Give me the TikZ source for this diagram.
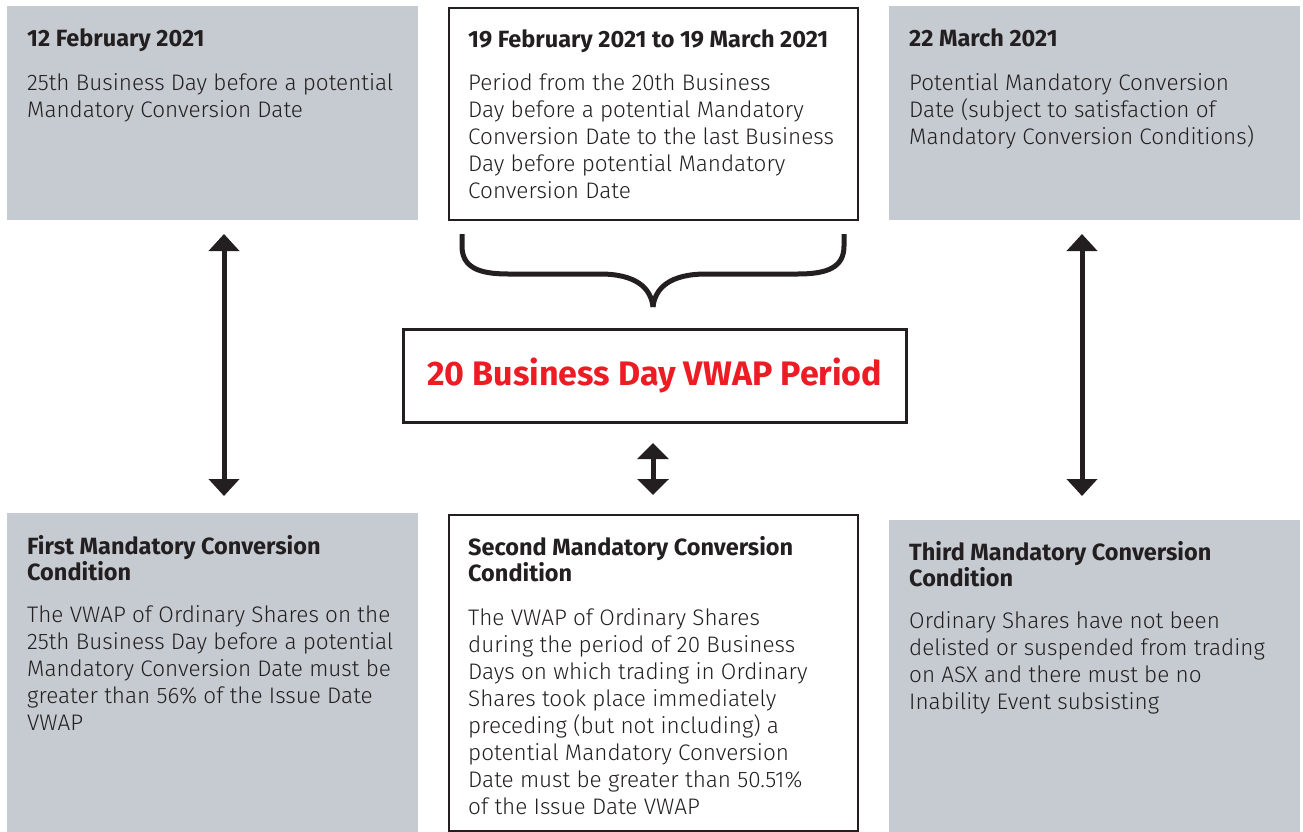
\documentclass[tikz,border=0pt]{standalone}
\usepackage{fontspec}
\setmainfont{Fira Sans Light}[BoldFont={Fira Sans Bold}]
\usetikzlibrary{arrows.meta,positioning}

\definecolor{boxgray}{HTML}{C5CBD1}
\definecolor{inkdark}{HTML}{231F20}
\definecolor{vwapred}{HTML}{ED1C24}

\tikzset{
  graybox/.style={fill=boxgray, draw=none, anchor=north west, inner sep=0, minimum width=411},
  framebox/.style={draw=inkdark, line width=2pt, fill=white, anchor=north west, inner sep=0, minimum width=409},
  headtext/.style={anchor=north west, inner sep=0, align=left, text=inkdark, font=\bfseries\fontsize{23.5}{26}\selectfont},
  bodytext/.style={anchor=north west, inner sep=0, align=left, text=inkdark, font=\fontsize{22.5}{27}\selectfont},
  dblarrow/.style={draw=inkdark, line width=5pt, {Triangle[width=30pt,length=17pt]}-{Triangle[width=30pt,length=17pt]}}
}

\begin{document}
\begin{tikzpicture}[x=1pt, y=-1pt]
\useasboundingbox (0,0) rectangle (1303,832);

% top row
\node[graybox, minimum height=214] (tl) at (7,6) {};
\node[framebox, minimum height=212] (tm) at (448,7) {};
\node[graybox, minimum height=214] (tr) at (889,6) {};

\node[headtext] (tl-head) at ([shift={(20,22)}]tl.north west) {12 February 2021};
\node[bodytext] (tl-body) at ([shift={(20,67)}]tl.north west)
  {25th Business Day before a potential\\Mandatory Conversion Date};

\node[headtext] (tm-head) at ([shift={(20,22)}]tm.north west) {19 February 2021 to 19 March 2021};
\node[bodytext] (tm-body) at ([shift={(20,66)}]tm.north west)
  {Period from the 20th Business\\Day before a potential Mandatory\\Conversion Date to the last Business\\Day before potential Mandatory\\Conversion Date};

\node[headtext] (tr-head) at ([shift={(20,22)}]tr.north west) {22 March 2021};
\node[bodytext] (tr-body) at ([shift={(20,67)}]tr.north west)
  {Potential Mandatory Conversion\\Date (subject to satisfaction of\\Mandatory Conversion Conditions)};

% brace under the period box
\draw[inkdark, line width=5pt]
  (462,234) -- (462,246) .. controls (462,267) and (478,274) .. (508,274)
  -- (600,274) .. controls (636,274) and (651,288) .. (653,307);
\draw[inkdark, line width=5pt]
  (844,234) -- (844,246) .. controls (844,267) and (828,274) .. (798,274)
  -- (706,274) .. controls (670,274) and (655,288) .. (653,307);

% centre box
\node[draw=inkdark, line width=2.5pt, anchor=north west, inner sep=0, minimum width=503, minimum height=93] (vwap) at (402,328) {};
\node[text=vwapred, font=\bfseries\fontsize{34}{36}\selectfont, inner sep=0] (vwap-text) at (vwap.center) {20 Business Day VWAP Period};

% bottom row
\node[graybox, minimum height=319] (bl) at (7,513) {};
\node[framebox, minimum height=316] (bm) at (448,514) {};
\node[graybox, minimum height=312] (br) at (889,520) {};

\node[headtext] (bl-head) at ([shift={(20,22)}]bl.north west) {First Mandatory Conversion\\Condition};
\node[bodytext] (bl-body) at ([shift={(20,92)}]bl.north west)
  {The VWAP of Ordinary Shares on the\\25th Business Day before a potential\\Mandatory Conversion Date must be\\greater than 56\% of the Issue Date\\VWAP};

\node[headtext] (bm-head) at ([shift={(20,22)}]bm.north west) {Second Mandatory Conversion\\Condition};
\node[bodytext] (bm-body) at ([shift={(20,94)}]bm.north west)
  {The VWAP of Ordinary Shares\\during the period of 20 Business\\Days on which trading in Ordinary\\Shares took place immediately\\preceding (but not including) a\\potential Mandatory Conversion\\Date must be greater than 50.51\%\\of the Issue Date VWAP};

\node[headtext] (br-head) at ([shift={(20,21)}]br.north west) {Third Mandatory Conversion\\Condition};
\node[bodytext] (br-body) at ([shift={(20,91)}]br.north west)
  {Ordinary Shares have not been\\delisted or suspended from trading\\on ASX and there must be no\\Inability Event subsisting};

% arrows
\coordinate (la-top) at (224,234);
\coordinate (la-bot) at (224,496);
\coordinate (ra-top) at (1082,234);
\coordinate (ra-bot) at (1082,496);
\coordinate (ma-top) at (653,443);
\coordinate (ma-bot) at (653,495);
\draw[dblarrow] (la-top) -- (la-bot);
\draw[dblarrow] (ra-top) -- (ra-bot);
\draw[dblarrow, {Triangle[width=31pt,length=16pt]}-{Triangle[width=31pt,length=16pt]}] (ma-top) -- (ma-bot);
\end{tikzpicture}
\end{document}
